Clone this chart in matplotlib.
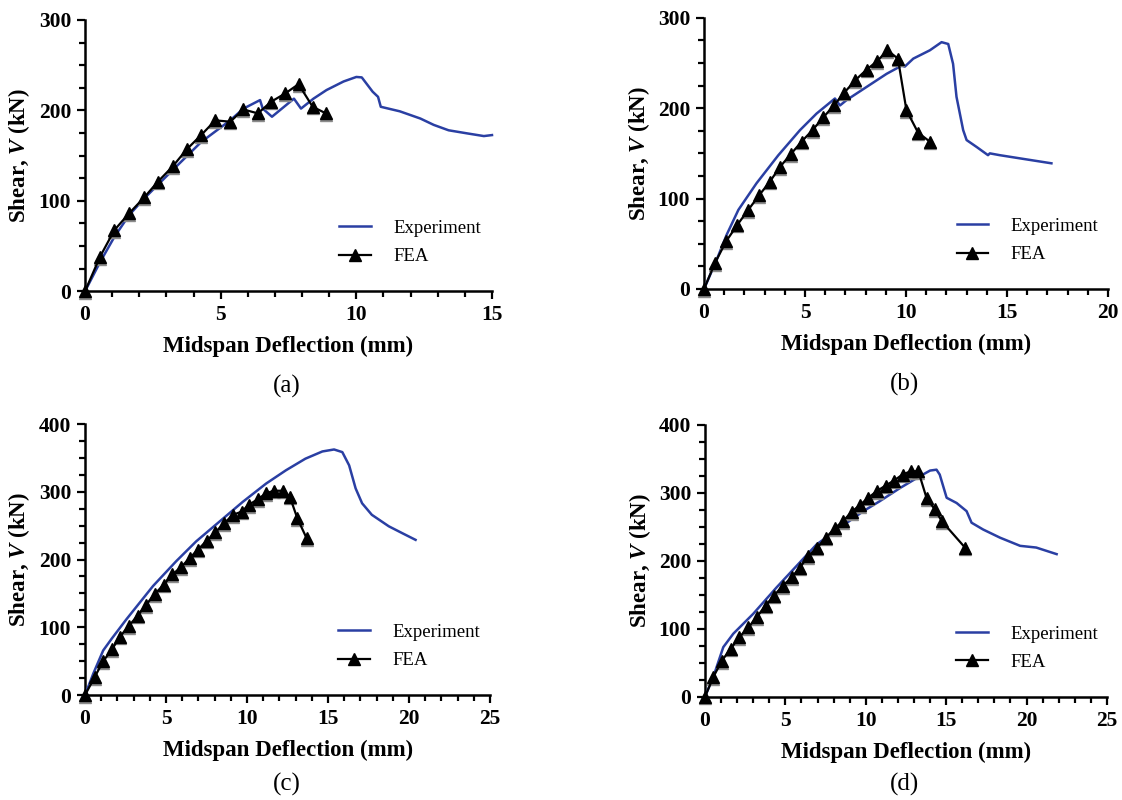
import matplotlib
matplotlib.use("Agg")
import matplotlib.pyplot as plt
from matplotlib.ticker import MultipleLocator
from matplotlib.transforms import offset_copy

plt.rcParams['font.family'] = ['Liberation Serif', 'DejaVu Serif']
plt.rcParams['mathtext.fontset'] = 'custom'
plt.rcParams['mathtext.rm'] = 'Liberation Serif:bold'
plt.rcParams['mathtext.it'] = 'Liberation Serif:italic:bold'
plt.rcParams['mathtext.bf'] = 'Liberation Serif:bold'

# ---------------- data ----------------
# (a)
exp_a_x = [0, 0.55, 1.08, 1.62, 2.18, 3.23, 4.28, 5.35, 5.84, 6.45, 6.55, 6.89, 7.7, 7.96, 8.42,
           8.9, 9.53, 10.0, 10.2, 10.6, 10.8, 10.9, 11.6, 12.36, 12.85, 13.4, 14.1, 14.7, 15.0]
exp_a_y = [0, 32, 60, 84, 102.6, 134, 165, 189, 202, 211.4, 202, 193, 213, 202, 213,
           222.5, 232, 237, 236.5, 220.7, 215, 204, 199, 191, 184, 178, 174.5, 171.6, 172.7]
fea_a_x = [0, 0.55, 1.08, 1.62, 2.18, 2.68, 3.23, 3.75, 4.28, 4.8, 5.35, 5.84, 6.37, 6.86,
           7.38, 7.87, 8.39, 8.88]
fea_a_y = [0, 38, 67.5, 86, 103.7, 121, 138, 157, 172.7, 189, 187.5, 201, 196.7, 209.6,
           218.8, 229, 204, 196.7]

# (b)
exp_b_x = [0, 0.62, 1.12, 1.7, 2.6, 3.68, 4.75, 5.57, 6.48, 6.73, 7.06, 8.05, 9.04, 9.78, 9.94,
           10.36, 11.18, 11.76, 12.09, 12.33, 12.5, 12.83, 13.0, 13.5, 14.06, 14.15, 14.64, 15.63, 17.2]
exp_b_y = [0, 32, 60, 87.5, 117, 148, 175.7, 194, 210.7, 203, 209, 223.5, 238, 247, 246,
           254.8, 264, 273, 271, 249, 212.5, 175.7, 164.7, 157, 148, 150, 148, 144.5, 139]
fea_b_x = [0, 0.54, 1.09, 1.65, 2.19, 2.74, 3.26, 3.76, 4.29, 4.83, 5.37, 5.9, 6.43, 6.94,
           7.49, 8.05, 8.57, 9.08, 9.6, 10.02, 10.6, 11.18]
fea_b_y = [0, 28.7, 52.6, 71, 87.5, 104, 118.75, 135, 149, 163, 175.7, 189.7, 203, 217,
           231, 242.6, 252, 264, 254.8, 197.8, 172.8, 163]

# (c)
exp_c_x = [0, 0.51, 1.12, 1.64, 2.56, 4.2, 5.63, 6.86, 8.3, 9.73, 11.17, 12.4, 13.6, 14.65,
           15.37, 15.88, 16.3, 16.7, 17.1, 17.7, 18.75, 19.57, 20.4]
exp_c_y = [0, 31.7, 65.8, 83, 112, 161, 197.6, 226.8, 256, 285, 312, 331.7, 348.8, 359.5,
           362.4, 358.5, 339, 305, 283, 266, 249, 239, 229]
fea_c_x = [0, 0.6, 1.12, 1.68, 2.15, 2.7, 3.24, 3.75, 4.3, 4.86, 5.39, 5.94, 6.45, 6.97, 7.52,
           8.05, 8.6, 9.12, 9.67, 10.1, 10.66, 11.17, 11.64, 12.19, 12.64, 13.1, 13.67]
fea_c_y = [0, 26.8, 50, 68, 86, 102, 117, 132.7, 149, 163, 178, 189, 202, 214.6, 228,
           240.5, 253.7, 265.9, 270.7, 280.5, 289, 297.6, 301.5, 301.5, 292.7, 261, 231.7]

# (d)
exp_d_x = [0, 0.52, 1.14, 1.76, 3.0, 4.46, 5.9, 6.94, 8.4, 9.85, 10.88, 12.13, 13.37, 14.0,
           14.4, 14.6, 15.03, 15.65, 16.27, 16.58, 17.3, 18.35, 19.6, 20.6, 21.87]
exp_d_y = [0, 29.3, 73, 92.7, 122, 161, 197.6, 224, 248.8, 273, 287.8, 307, 324.4, 332.7,
           334, 326.8, 292.7, 285, 273, 256, 246, 234, 222, 219.5, 209.8]
fea_d_x = [0, 0.52, 1.04, 1.6, 2.14, 2.7, 3.21, 3.77, 4.29, 4.83, 5.39, 5.9, 6.43, 6.99, 7.52,
           8.08, 8.6, 9.12, 9.64, 10.16, 10.68, 11.24, 11.75, 12.29, 12.79, 13.27, 13.79, 14.3,
           14.72, 16.17]
fea_d_y = [0, 29, 52.7, 70.7, 87.8, 102, 117, 134, 148.8, 163, 175.6, 190, 207, 219.5, 234,
           248, 258.5, 272, 282, 292.7, 302.4, 310.7, 318, 326.8, 331.7, 331.7, 291.7, 275.6,
           258.5, 219.5]

panel_labels = ['(a)', '(b)', '(c)', '(d)']
x_limits = [15, 20, 25, 25]
x_major = [5, 5, 5, 5]
y_limits = [300, 300, 400, 400]
y_major = [100, 100, 100, 100]

panels = [(exp_a_x, exp_a_y, fea_a_x, fea_a_y),
          (exp_b_x, exp_b_y, fea_b_x, fea_b_y),
          (exp_c_x, exp_c_y, fea_c_x, fea_c_y),
          (exp_d_x, exp_d_y, fea_d_x, fea_d_y)]

# ---------------- layout ----------------
fig = plt.figure(figsize=(11.22, 8.0), dpi=100)
positions = [
    [0.0758, 0.6360, 0.3627, 0.3390],
    [0.6275, 0.6388, 0.3600, 0.3390],
    [0.0758, 0.1312, 0.3610, 0.3388],
    [0.6283, 0.1290, 0.3583, 0.3400],
]
label_pos = [(0.256, 0.517), (0.806, 0.519), (0.256, 0.02), (0.806, 0.02)]

blue = '#2a3fa3'
for i, (ex, ey, fx, fy) in enumerate(panels):
    ax = fig.add_axes(positions[i])
    ax.plot(ex, ey, color=blue, lw=1.8, label='Experiment', zorder=3, clip_on=False)
    shadow = offset_copy(ax.transData, fig=fig, x=0, y=-1.2, units='points')
    ax.plot(fx, fy, linestyle='none', marker='^', ms=9, color='#8c8c8c',
            transform=shadow, zorder=4, clip_on=False)
    ax.plot(fx, fy, color='black', lw=1.6, marker='^', ms=8.5, mfc='black', mec='black',
            label='FEA', zorder=5, clip_on=False)

    ax.set_xlim(0, x_limits[i])
    ax.set_ylim(0, y_limits[i])
    ax.xaxis.set_major_locator(MultipleLocator(x_major[i]))
    ax.xaxis.set_minor_locator(MultipleLocator(1))
    ax.yaxis.set_major_locator(MultipleLocator(y_major[i]))
    ax.yaxis.set_minor_locator(MultipleLocator(25))
    for s in ['top', 'right']:
        ax.spines[s].set_visible(False)
    for s in ['left', 'bottom']:
        ax.spines[s].set_linewidth(1.8)
    ax.tick_params(which='major', direction='out', length=6, width=1.6, pad=4,
                   labelsize=15.5)
    ax.tick_params(which='minor', direction='out', length=4, width=1.6)
    for lab in ax.get_xticklabels() + ax.get_yticklabels():
        lab.set_fontweight('bold')

    ax.set_xlabel('Midspan Deflection (mm)', fontsize=16.5, fontweight='bold')
    ax.set_ylabel(r'Shear, $\mathit{V}$ (kN)', fontsize=16.5, fontweight='bold')
    ax.xaxis.set_label_coords(0.5, -0.165)
    ax.yaxis.set_label_coords(-0.13, 0.5)

    leg = ax.legend(loc='lower left', bbox_to_anchor=(0.625, 0.095), frameon=False,
                    fontsize=13.5, handlelength=1.7, handletextpad=1.2,
                    labelspacing=0.6, borderpad=0, borderaxespad=0)

    fig.text(label_pos[i][0], label_pos[i][1], panel_labels[i], fontsize=18,
             ha='center', va='center')

fig.savefig('out.png', dpi=100)
